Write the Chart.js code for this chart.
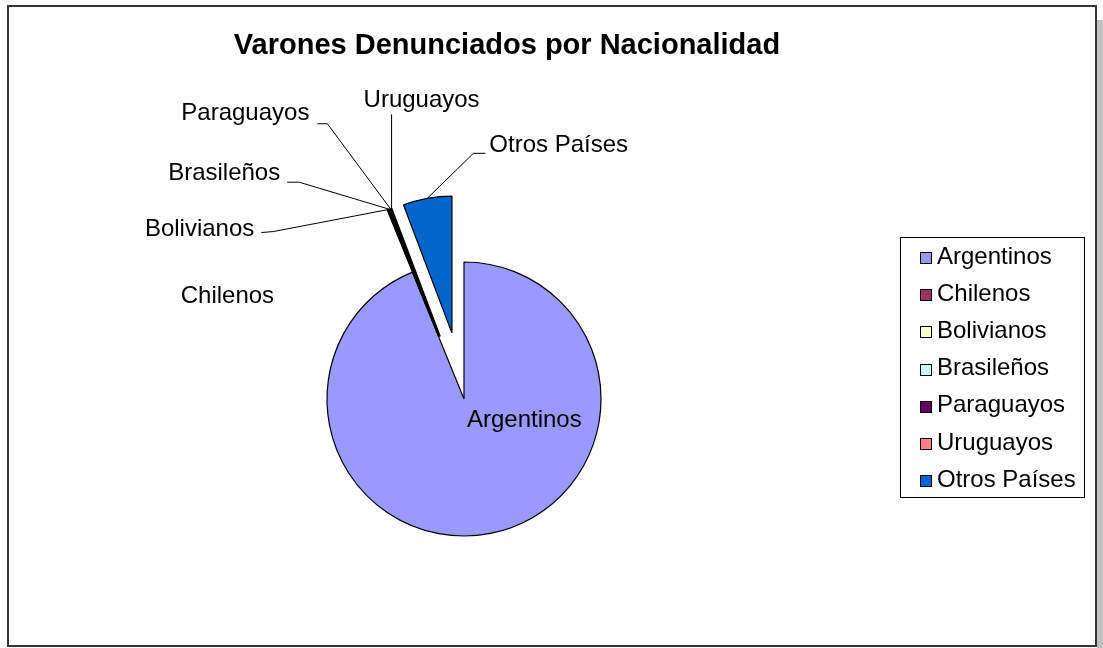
<!DOCTYPE html>
<html lang="es">
<head>
    <meta charset="UTF-8">
    <title>Varones Denunciados por Nacionalidad</title>
    <script src="https://cdn.jsdelivr.net/npm/chart.js"></script>
    <style>
        body {
            margin: 0;
            padding: 0;
            background-color: #fff;
        }
    </style>
</head>
<body>
    <canvas id="nacionalidadChart" width="1103" height="648"></canvas>

    <script>
        // Datos del gráfico
        const titulo = 'Varones Denunciados por Nacionalidad';
        const nacionalidades = ['Argentinos', 'Chilenos', 'Bolivianos', 'Brasileños', 'Paraguayos', 'Uruguayos', 'Otros Países'];
        const porcentajes = [93.85, 0.05, 0.1, 0.05, 0.15, 0.05, 5.75];

        // Estilo (paleta de Excel)
        const colores = ['#9999FF', '#993366', '#FFFFCC', '#CCFFFF', '#660066', '#FF8080', '#0066CC'];
        const separacion = [0, 67, 67, 67, 67, 67, 67];
        const fuente = "'Liberation Sans', Arial, sans-serif";

        // Posición de cada etiqueta respecto a la punta de su porción
        // texto: [dx, dy, align]; guia: puntos intermedios de la línea
        const etiquetas = [
            { texto: [34, -113, 'center'], guia: null },
            { texto: [-160, 86, 'center'], guia: null },
            { texto: [-134, 20, 'right'], guia: [[-115, 22], [-127, 23]] },
            { texto: [-109, -36, 'right'], guia: [[-90, -27], [-102, -27]] },
            { texto: [-81, -95, 'right'], guia: [[-63, -85], [-73, -85]] },
            { texto: [30, -108, 'center'], guia: [[0, -94]] },
            { texto: [62, -53, 'left'], guia: [[46, -45], [58, -45]] }
        ];

        // Marco con sombra, como en Excel
        const marco = {
            id: 'marco',
            beforeDraw(chart) {
                const ctx = chart.ctx;
                ctx.save();
                ctx.fillStyle = '#fff';
                ctx.fillRect(0, 0, chart.width, chart.height);
                ctx.fillStyle = '#c0c0c0';
                ctx.fillRect(1097, 20, 6, chart.height - 20);
                ctx.strokeStyle = '#333';
                ctx.lineWidth = 2;
                ctx.strokeRect(8, 6, 1088, 640);

                ctx.fillStyle = '#000';
                ctx.font = 'bold 29px ' + fuente;
                ctx.textAlign = 'center';
                ctx.textBaseline = 'middle';
                ctx.fillText(titulo, 507, 46);
                ctx.restore();
            }
        };

        // Porciones separadas del centro
        const explotar = {
            id: 'explotar',
            afterDatasetsUpdate(chart) {
                chart.getDatasetMeta(0).data.forEach((arc, i) => {
                    const d = separacion[i] || 0;
                    const medio = (arc.startAngle + arc.endAngle) / 2;
                    arc.x += Math.cos(medio) * d;
                    arc.y += Math.sin(medio) * d;
                });
            }
        };

        // Etiquetas con líneas guía
        const rotulos = {
            id: 'rotulos',
            afterDatasetsDraw(chart) {
                const ctx = chart.ctx;
                ctx.save();
                ctx.font = '24px ' + fuente;
                ctx.textBaseline = 'middle';
                ctx.strokeStyle = '#000';
                ctx.lineWidth = 1;
                chart.getDatasetMeta(0).data.forEach((arc, i) => {
                    const medio = (arc.startAngle + arc.endAngle) / 2;
                    const px = arc.x + Math.cos(medio) * arc.outerRadius;
                    const py = arc.y + Math.sin(medio) * arc.outerRadius;
                    const et = etiquetas[i];
                    if (et.guia) {
                        ctx.beginPath();
                        ctx.moveTo(px, py);
                        et.guia.forEach(p => ctx.lineTo(px + p[0], py + p[1]));
                        ctx.stroke();
                    }
                    ctx.fillStyle = '#000';
                    ctx.textAlign = et.texto[2];
                    ctx.fillText(nacionalidades[i], px + et.texto[0], py + et.texto[1]);
                });
                ctx.restore();
            }
        };

        // Leyenda con recuadro
        const leyenda = {
            id: 'leyenda',
            afterDraw(chart) {
                const ctx = chart.ctx;
                const x0 = 900, y0 = 237, w = 184, h = 260;
                ctx.save();
                ctx.strokeStyle = '#000';
                ctx.lineWidth = 1;
                ctx.strokeRect(x0 + 0.5, y0 + 0.5, w, h);
                ctx.font = '24px ' + fuente;
                ctx.textBaseline = 'middle';
                ctx.textAlign = 'left';
                chart.data.labels.forEach((lbl, i) => {
                    const cy = y0 + 20 + i * 37.2;
                    const my = Math.round(cy - 5);
                    ctx.fillStyle = chart.data.datasets[0].backgroundColor[i];
                    ctx.fillRect(920, my, 11, 11);
                    ctx.strokeRect(920.5, my + 0.5, 11, 11);
                    ctx.fillStyle = '#000';
                    ctx.fillText(lbl, 937, cy);
                });
                ctx.restore();
            }
        };

        const ctx = document.getElementById('nacionalidadChart').getContext('2d');
        const nacionalidadChart = new Chart(ctx, {
            type: 'pie',
            data: {
                labels: nacionalidades,
                datasets: [{
                    data: porcentajes,
                    backgroundColor: colores,
                    borderColor: '#000',
                    borderWidth: 1.2
                }]
            },
            options: {
                responsive: false,
                animation: false,
                events: [],
                radius: 137,
                layout: {
                    padding: { left: 100, right: 275, top: 200, bottom: 50 }
                },
                plugins: {
                    legend: { display: false },
                    title: { display: false },
                    tooltip: { enabled: false }
                }
            },
            plugins: [marco, explotar, rotulos, leyenda]
        });
    </script>
</body>
</html>
